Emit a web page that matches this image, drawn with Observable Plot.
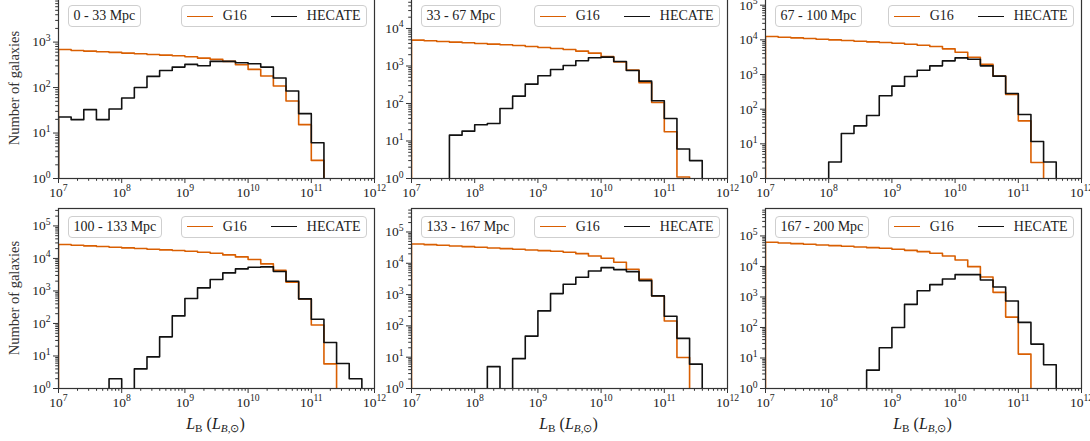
<!DOCTYPE html>
<html><head><meta charset="utf-8">
<script src="https://cdn.jsdelivr.net/npm/d3@7"></script>
<script src="https://cdn.jsdelivr.net/npm/@observablehq/plot@0.6"></script>
<style>
body{margin:0;background:#fff;}
#fig{position:relative;width:1090px;height:441px;overflow:hidden;background:#fff;font-family:"Liberation Serif",serif;color:#222;}
#fig svg{position:absolute;overflow:visible;}
.box{position:absolute;box-sizing:border-box;height:22px;border:1px solid #cfcfcf;border-radius:4px;background:rgba(255,255,255,0.8);font-size:14px;line-height:20px;display:flex;align-items:center;white-space:nowrap;}
.plab{padding:0 5px;}
.leg{padding:0 5.5px 0 5px;}
.sw{display:inline-block;width:26px;height:0;border-top:1.7px solid;margin-right:10px;}
.gap{display:inline-block;width:24px;}
.ylab{position:absolute;transform:translate(-50%,-50%) rotate(-90deg);font-size:14.5px;white-space:nowrap;color:#333;}
.xlab{position:absolute;transform:translate(-50%,-50%);font-size:16px;white-space:nowrap;color:#222;}
.xlab sub{font-size:70%;vertical-align:-0.3em;line-height:0;}
</style></head><body><div id="fig"></div><script>
// bin edges (log10 of L_B)
const binExp = [7,7.2,7.4,7.6,7.8,8,8.2,8.4,8.6,8.8,9,9.2,9.4,9.6,9.8,10,10.2,10.4,10.6,10.8,11,11.2,11.4,11.6,11.8,12];
const panelLabels = ["0 - 33 Mpc","33 - 67 Mpc","67 - 100 Mpc","100 - 133 Mpc","133 - 167 Mpc","167 - 200 Mpc"];
const seriesNames = ["G16","HECATE"];
const seriesColors = ["#d95f02","#111111"];

const g16_0_33 = [689,655,633,612,593,573,554,535,517,500,476,444,416,376,317,251,179,108,50.6,15.3,2.5,0,0,0,0];
const hecate_0_33 = [22.5,19.7,32.7,19.7,33.8,59,100,176,238,282,323,302,376,376,351,334,282,162,84,26.7,6.1,0,0,0,0];
const g16_33_67 = [4887,4690,4500,4320,4150,3980,3820,3670,3520,3310,3115,2930,2755,2490,2200,1790,1290,774,356,106,17.6,1.1,0,0,0];
const hecate_33_67 = [0,0,0,14.3,18.3,27,29.3,73.6,157,328,547,807,1030,1374,1652,1720,1320,759,394,118,39.8,6.1,3,0,0];
const g16_67_100 = [12480,11930,11430,10960,10450,10000,9560,9160,8760,8380,8020,7500,7020,6420,5500,4400,3160,1985,896,265,46,2.9,0,0,0];
const hecate_67_100 = [0,0,0,0,0,3,19.9,33,65.6,243,461,876,1333,1778,2477,3020,2770,1778,896,283,70,11.7,3,0,0];
const g16_100_133 = [26680,25450,24270,23170,22100,21080,20100,19180,18290,17450,16640,15500,14450,12830,11130,9220,6790,4340,1855,570,90,5.7,0,0,0];
const hecate_100_133 = [0,0,0,0,2,0,4,9.4,38.7,171,584,1243,2240,3590,4760,5370,5500,3950,1990,570,135,26,5.9,2,0];
const g16_133_167 = [41400,39400,37500,35700,34000,32400,30800,29400,28000,26600,25400,24200,22500,20300,17100,14400,10800,6440,3080,907,144,9.8,0,0,0];
const hecate_133_167 = [0,0,0,0,0,0,5,0,9,47,301,1076,2137,3570,5690,7270,6280,5420,2800,907,204,40,6,0,0];
const g16_167_200 = [62000,58900,56000,53300,50700,48200,45800,43600,41400,39400,36500,33800,30600,27000,22100,16300,9850,4510,1415,219,13.4,0,0,0,0];
const hecate_167_200 = [0,0,0,0,0,0,0,0,4,21.6,100,571,1607,2530,3880,5390,5390,3600,2120,735,147,28.5,6,0,0];

const yMax = [9100, 63000, 156000, 343000, 562000, 794000];

const g16All = [g16_0_33,g16_33_67,g16_67_100,g16_100_133,g16_133_167,g16_167_200];
const hecAll = [hecate_0_33,hecate_33_67,hecate_67_100,hecate_100_133,hecate_133_167,hecate_167_200];

const edges = binExp.map(e => Math.pow(10, e));
const FLOOR = 1e-3;
function steps(vals){
  const pts = [{x: edges[0], y: FLOOR}];
  vals.forEach((v,i) => pts.push({x: edges[i], y: v > 0 ? v : FLOOR}));
  const last = vals[vals.length-1];
  pts.push({x: edges[edges.length-1], y: last > 0 ? last : FLOOR});
  pts.push({x: edges[edges.length-1], y: FLOOR});
  return pts;
}
function decades(a, b){ const r=[]; for(let e=a;e<=b;e++) r.push(Math.pow(10,e)); return r; }
function minors(a, b, max){ const r=[]; for(let e=a;e<b;e++) for(let k=2;k<=9;k++){ const v=k*Math.pow(10,e); if(v<=max) r.push(v);} return r; }
const fmt = d => "10^" + Math.round(Math.log10(d));

const colLeft = [57.5, 410.5, 764.5], rowTop = [-2, 208.3];
const PW = 316, PH = 180, ML = 58, MR = 24, MT = 4, MB = 26;
const fig = document.getElementById("fig");

for (let i = 0; i < 6; i++){
  const col = i % 3, row = Math.floor(i / 3);
  const L = colLeft[col], T = rowTop[row];
  const ytopExp = Math.floor(Math.log10(yMax[i]));
  const svg = Plot.plot({
    width: ML+PW+MR, height: MT+PH+MB,
    marginLeft: ML, marginRight: MR, marginTop: MT, marginBottom: MB,
    style: {background: "transparent", fontFamily: "Liberation Serif", fontSize: "13.5px", color: "#222", overflow: "visible"},
    x: {type: "log", domain: [1e7, 1e12], label: null},
    y: {type: "log", domain: [1, yMax[i]], label: null},
    marks: [
      Plot.line(steps(g16All[i]), {x: "x", y: "y", curve: "step-after", stroke: seriesColors[0], strokeWidth: 1.6, clip: true}),
      Plot.line(steps(hecAll[i]), {x: "x", y: "y", curve: "step-after", stroke: seriesColors[1], strokeWidth: 1.6, clip: true}),
      Plot.axisX({ticks: minors(7, 12, 1e12), tickSize: 2.8, tickFormat: () => "", label: null, stroke: "#333"}),
      Plot.axisX({ticks: decades(7, 12), tickSize: 5, tickPadding: 3.5, tickFormat: fmt, label: null, stroke: "#333", fill: "#222", fontSize: 13.5}),
      Plot.axisY({ticks: minors(0, ytopExp+1, yMax[i]), tickSize: 2.8, tickFormat: () => "", label: null, stroke: "#333"}),
      Plot.axisY({ticks: decades(0, ytopExp), tickSize: 5, tickPadding: 3, tickFormat: fmt, label: null, stroke: "#333", fill: "#222", fontSize: 13.5}),
      Plot.frame({stroke: "#333", strokeWidth: 1.2})
    ]
  });
  svg.querySelectorAll("text").forEach(t => {
    const m = /^10\^(\d+)$/.exec(t.textContent);
    if (m) {
      t.textContent = "10";
      t.setAttribute("font-size", "13.5");
      const ts = document.createElementNS("http://www.w3.org/2000/svg", "tspan");
      ts.setAttribute("dy", "-0.55em");
      ts.setAttribute("font-size", "9.7");
      ts.textContent = m[1];
      t.appendChild(ts);
    }
  });
  svg.style.left = (L - ML) + "px";
  svg.style.top = (T - MT) + "px";
  fig.appendChild(svg);

  const lab = document.createElement("div");
  lab.className = "box plab";
  lab.style.left = (L + 10) + "px";
  lab.style.top = (T + 7.2) + "px";
  lab.textContent = panelLabels[i];
  fig.appendChild(lab);

  const leg = document.createElement("div");
  leg.className = "box leg";
  leg.style.right = (1090 - (L + PW - 6.5)) + "px";
  leg.style.top = (T + 7.2) + "px";
  leg.innerHTML = `<span class="sw" style="border-color:${seriesColors[0]}"></span><span>${seriesNames[0]}</span><span class="gap"></span><span class="sw" style="border-color:${seriesColors[1]}"></span><span>${seriesNames[1]}</span>`;
  fig.appendChild(leg);

  if (col === 0) {
    const yl = document.createElement("div");
    yl.className = "ylab";
    yl.style.left = "14px";
    yl.style.top = (T + PH/2) + "px";
    yl.textContent = "Number of galaxies";
    fig.appendChild(yl);
  }
  if (row === 1) {
    const xl = document.createElement("div");
    xl.className = "xlab";
    xl.style.left = (L + PW/2) + "px";
    xl.style.top = "424px";
    xl.innerHTML = `<i>L</i><sub>B</sub> (<i>L</i><sub><i>B</i>,⊙</sub>)`;
    fig.appendChild(xl);
  }
}
</script></body></html>
